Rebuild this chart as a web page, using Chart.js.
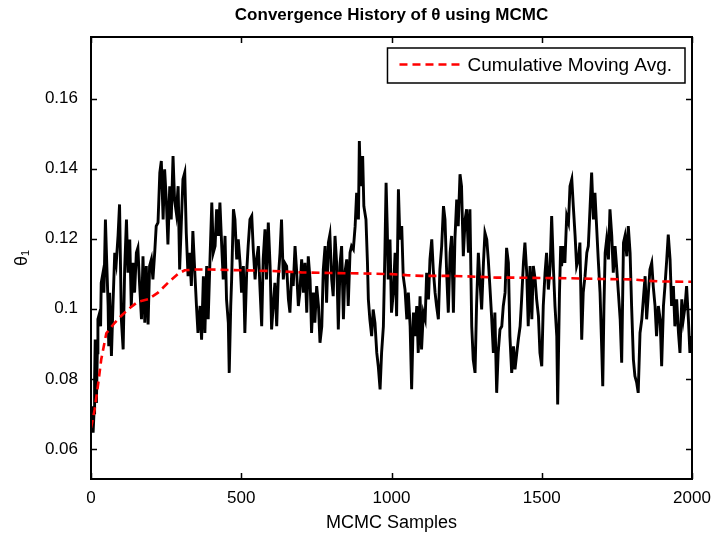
<!DOCTYPE html>
<html lang="en">
  <head>
    <meta charset="UTF-8" />
    <title>Convergence History of θ using MCMC</title>
    <script src="https://cdn.jsdelivr.net/npm/chart.js"></script>
    <style>
      html, body { margin: 0; padding: 0; background: #fff; }
      #wrap { width: 715px; height: 535px; }
    </style>
  </head>
  <body>
    <div id="wrap"><canvas id="mcmc-chart" width="715" height="535"></canvas></div>
    <script>
      // samples (MCMC sample index, theta_1 value)
      const sampleIdx = [
        0, 3, 7, 10, 12, 14, 18, 21, 23, 29, 32, 34, 40, 43, 48, 52, 57, 59, 62, 68,
        73, 79, 84, 90, 95, 101, 107, 112, 118, 123, 129, 134, 140, 145, 151, 156, 162, 168, 173, 179,
        184, 190, 195, 201, 206, 212, 217, 223, 229, 234, 240, 245, 251, 256, 262, 267, 273, 278, 284, 290,
        295, 301, 306, 312, 317, 323, 328, 334, 339, 345, 351, 356,
        363, 368, 374, 379, 385, 390, 396, 402, 407, 413, 418, 424, 429, 435, 440, 446, 451, 457, 460, 465,
        468, 474, 479, 485, 490, 496, 501, 507, 512, 518, 523, 529, 535, 540, 546, 551, 557, 562, 568, 573,
        579, 584, 590, 596, 601, 607, 612, 618, 623, 629, 634, 640, 645, 651, 657, 662, 668, 673, 679, 684,
        690, 695,
        701, 707, 712, 718, 723, 729, 734, 740, 745, 751, 757, 762, 768, 773, 779, 784, 790, 795, 801, 806,
        812, 818, 823, 829, 834, 840, 845, 851, 856, 862, 867, 873, 879, 884, 890, 893, 897, 904, 908, 915,
        920, 923, 928, 934, 939, 945, 951, 956, 962, 967, 973, 978, 982, 986, 989, 995, 1000, 1006, 1012, 1017,
        1023, 1028,
        1034, 1039, 1045, 1051, 1056, 1062, 1067, 1073, 1078, 1084, 1089, 1095, 1100, 1106, 1112, 1117, 1123, 1128, 1134, 1139,
        1145, 1150, 1156, 1161, 1167, 1173, 1178, 1184, 1189, 1195, 1200, 1206, 1211, 1217, 1222, 1228, 1233, 1239, 1245, 1250,
        1256, 1261, 1267, 1272, 1278, 1283, 1289, 1294, 1300, 1306, 1311, 1317, 1322, 1328, 1333, 1339, 1344, 1350, 1355, 1361,
        1367, 1372, 1378, 1383, 1389, 1394, 1400, 1406, 1411, 1417, 1422, 1428, 1433, 1439, 1444, 1450, 1455, 1461, 1467, 1472,
        1478, 1483, 1489, 1494, 1500, 1505, 1511, 1516, 1522, 1528, 1533, 1539, 1544, 1550, 1553, 1559, 1563, 1566, 1572, 1577,
        1583, 1589, 1594, 1600, 1605, 1611, 1616, 1622, 1627, 1633, 1638, 1644, 1650, 1655, 1661, 1666, 1672, 1677, 1683, 1688,
        1694,
        1700, 1703, 1707, 1711, 1716, 1722, 1727, 1733, 1738, 1744, 1749, 1755, 1761, 1766, 1772, 1777, 1783, 1788, 1794, 1799,
        1805, 1810, 1816, 1821, 1827, 1833, 1838, 1844, 1849, 1855, 1860, 1866, 1871, 1877, 1882, 1888, 1894, 1899, 1905, 1910,
        1916, 1921, 1927, 1932, 1938, 1943, 1949, 1955, 1960, 1966, 1971, 1977, 1982, 1988, 1993, 1997, 2000
      ];
      const thetaTrace = [
        0.0655, 0.0722, 0.0646, 0.0703, 0.0798, 0.0912, 0.0731, 0.0874, 0.097, 0.0989, 0.095, 0.1074, 0.1103, 0.1046, 0.1255, 0.1141, 0.1008, 0.0893, 0.1046, 0.0865,
        0.1008, 0.116, 0.1131, 0.1208, 0.1298, 0.097, 0.0884, 0.1112, 0.1255, 0.1103, 0.1198, 0.1008, 0.1131, 0.1046, 0.116, 0.1174, 0.1065, 0.097, 0.115, 0.096,
        0.1122, 0.0955, 0.1122, 0.1141, 0.1084, 0.116, 0.1236, 0.1246, 0.1389, 0.1422, 0.1255, 0.1398, 0.1303, 0.1184, 0.135, 0.1255, 0.1436, 0.1312, 0.1274, 0.135,
        0.1112, 0.1255, 0.137, 0.1389, 0.1217, 0.1093, 0.116, 0.1065, 0.1222, 0.1112, 0.1008, 0.0931,
        0.1008, 0.0912, 0.1093, 0.0931, 0.1122, 0.097, 0.1141, 0.1303, 0.116, 0.1179, 0.1284, 0.1208, 0.1303, 0.1179, 0.1084, 0.1208, 0.1027, 0.096, 0.0817, 0.1008,
        0.1084, 0.1284, 0.1255, 0.1141, 0.1198, 0.1131, 0.1046, 0.1122, 0.0931, 0.1103, 0.1179, 0.1255, 0.1265, 0.117, 0.1084, 0.1141, 0.1179, 0.1065, 0.095, 0.1141,
        0.1227, 0.1084, 0.1246, 0.1122, 0.0941, 0.1017, 0.1074, 0.095, 0.1084, 0.116, 0.1255, 0.1084, 0.1131, 0.1122, 0.1027, 0.0989, 0.1103, 0.1065, 0.1179, 0.1112,
        0.1008, 0.1046,
        0.1141, 0.1046, 0.1131, 0.0989, 0.115, 0.1084, 0.0931, 0.1046, 0.096, 0.1065, 0.1008, 0.0903, 0.095, 0.1112, 0.1179, 0.1017, 0.1189, 0.1212, 0.1084, 0.1036,
        0.1208, 0.1122, 0.0941, 0.1131, 0.1179, 0.097, 0.1103, 0.1141, 0.1008, 0.116, 0.1179, 0.117, 0.1236, 0.1331, 0.1255, 0.1479, 0.135, 0.1436, 0.1293, 0.1255,
        0.1131, 0.1027, 0.097, 0.0922, 0.0998, 0.096, 0.0874, 0.0836, 0.077, 0.0874, 0.095, 0.116, 0.136, 0.1227, 0.1084, 0.1198, 0.0989, 0.1046, 0.116, 0.0979,
        0.1341, 0.1198,
        0.1236, 0.1093, 0.1055, 0.097, 0.1046, 0.095, 0.077, 0.0989, 0.0922, 0.1008, 0.0874, 0.1036, 0.0884, 0.0989, 0.097, 0.1103, 0.1027, 0.1141, 0.1198, 0.1112,
        0.1046, 0.1008, 0.097, 0.1112, 0.1179, 0.1293, 0.1255, 0.1093, 0.0989, 0.116, 0.1208, 0.0989, 0.1198, 0.1312, 0.1236, 0.1384, 0.135, 0.115, 0.1255, 0.1284,
        0.116, 0.1284, 0.095, 0.0855, 0.0817, 0.1008, 0.116, 0.1084, 0.0998, 0.1131, 0.1217, 0.1198, 0.1141, 0.1055, 0.0979, 0.0874, 0.0989, 0.076, 0.0874, 0.0941,
        0.095, 0.1008, 0.1046, 0.1174, 0.1131, 0.0922, 0.0817, 0.0893, 0.0827, 0.0874, 0.0912, 0.095, 0.1027, 0.1131, 0.1189, 0.1103, 0.095, 0.1122, 0.097, 0.1122,
        0.1084, 0.1027, 0.0979, 0.0874, 0.0836, 0.1008, 0.1103, 0.116, 0.1055, 0.1122, 0.1265, 0.1112, 0.1008, 0.0922, 0.0727, 0.1046, 0.1179, 0.1122, 0.1179, 0.1131,
        0.1265, 0.1246, 0.135, 0.137, 0.1293, 0.1208, 0.1122, 0.1141, 0.1189, 0.0912, 0.1046, 0.1093, 0.116, 0.1179, 0.1293, 0.1389, 0.1255, 0.1331, 0.1227, 0.1141,
        0.1046,
        0.0874, 0.0779, 0.1008, 0.116, 0.1198, 0.1141, 0.1284, 0.1208, 0.1103, 0.1179, 0.1122, 0.1046, 0.097, 0.0846, 0.1189, 0.1208, 0.115, 0.1236, 0.116, 0.1008,
        0.0855, 0.0808, 0.0789, 0.076, 0.0931, 0.097, 0.1027, 0.1093, 0.097, 0.1046, 0.1112, 0.1131, 0.1065, 0.1008, 0.0922, 0.1008, 0.097, 0.0836, 0.1008, 0.1065,
        0.1141, 0.1212, 0.1141, 0.1008, 0.1065, 0.095, 0.1027, 0.0931, 0.0874, 0.1027, 0.097, 0.1008, 0.1065, 0.097, 0.0874, 0.0922, 0.0874
      ];

      // cumulative moving average
      const avgIdx = [0, 5, 12, 23, 34, 51, 79, 101, 123, 156, 190, 223, 256, 290, 312, 350, 400, 500, 600, 700,
        800, 900, 1000, 1050, 1100, 1200, 1300, 1350, 1400, 1500, 1600, 1700, 1800, 1850, 1900, 2000];
      const avgTrace = [0.066, 0.068, 0.0712, 0.078, 0.0855, 0.093, 0.096, 0.098, 0.0998, 0.102, 0.1027, 0.1046, 0.1074, 0.110, 0.111, 0.1112, 0.1112, 0.1110, 0.1108, 0.1104,
        0.1102, 0.1101, 0.1099, 0.1096, 0.1094, 0.1094, 0.1091, 0.1089, 0.1089, 0.1088, 0.1087, 0.1085, 0.1084, 0.1080, 0.1078, 0.1077];

      const xTickValues = [0, 500, 1000, 1500, 2000];
      const xTickLabels = ["0", "500", "1000", "1500", "2000"];
      const yTickValues = [0.06, 0.08, 0.1, 0.12, 0.14, 0.16];
      const yTickLabels = ["0.06", "0.08", "0.1", "0.12", "0.14", "0.16"];

      const FONT = "'Liberation Sans', Arial, Helvetica, sans-serif";

      // MATLAB-like box: frame, inward ticks on all four sides, legend inside the axes
      const matlabBox = {
        id: "matlabBox",
        afterDatasetsDraw(chart) {
          const { ctx, chartArea: a, scales } = chart;
          const xs = scales.x, ys = scales.y;
          const tl = 6;
          ctx.save();
          ctx.strokeStyle = "#000";
          ctx.lineWidth = 1.5;
          ctx.beginPath();
          xs.ticks.forEach((t) => {
            const px = Math.round(xs.getPixelForValue(t.value)) + 0.5;
            ctx.moveTo(px, a.bottom); ctx.lineTo(px, a.bottom - tl);
            ctx.moveTo(px, a.top); ctx.lineTo(px, a.top + tl);
          });
          ys.ticks.forEach((t) => {
            const py = Math.round(ys.getPixelForValue(t.value)) + 0.5;
            ctx.moveTo(a.left, py); ctx.lineTo(a.left + tl, py);
            ctx.moveTo(a.right, py); ctx.lineTo(a.right - tl, py);
          });
          ctx.stroke();
          ctx.lineWidth = 2;
          ctx.strokeRect(a.left, a.top, a.right - a.left, a.bottom - a.top);

          // legend for the moving average only
          const ds = chart.data.datasets[0];
          ctx.font = "19px " + FONT;
          const tw = ctx.measureText(ds.label).width;
          const boxR = a.right - 7, boxT = a.top + 11, boxH = 35;
          const textX = boxR - 13 - tw;
          const lineR = textX - 6, lineL = lineR - 62;
          const boxL = lineL - 12;
          ctx.fillStyle = "#fff";
          ctx.fillRect(boxL, boxT, boxR - boxL, boxH);
          ctx.lineWidth = 1.5;
          ctx.strokeStyle = "#000";
          ctx.strokeRect(boxL, boxT, boxR - boxL, boxH);
          ctx.beginPath();
          ctx.setLineDash(ds.borderDash);
          ctx.strokeStyle = ds.borderColor;
          ctx.lineWidth = ds.borderWidth;
          ctx.moveTo(lineL, boxT + 16.5);
          ctx.lineTo(lineR, boxT + 16.5);
          ctx.stroke();
          ctx.setLineDash([]);
          ctx.fillStyle = "#000";
          ctx.textBaseline = "middle";
          ctx.textAlign = "left";
          ctx.fillText(ds.label, textX, boxT + 18);
          ctx.restore();
        },
      };

      const ctx = document.getElementById("mcmc-chart").getContext("2d");
      const mcmcChart = new Chart(ctx, {
        type: "line",
        data: {
          datasets: [
            {
              label: "Cumulative Moving Avg.",
              data: avgIdx.map((s, i) => ({ x: s, y: avgTrace[i] })),
              borderColor: "#ff0000",
              borderWidth: 2.6,
              borderDash: [8, 5],
              pointRadius: 0,
              tension: 0,
              fill: false,
            },
            {
              label: "theta",
              data: sampleIdx.map((s, i) => ({ x: s, y: thetaTrace[i] })),
              borderColor: "#000000",
              borderWidth: 2.9,
              pointRadius: 0,
              tension: 0,
              fill: false,
            },
          ],
        },
        options: {
          responsive: false,
          animation: false,
          layout: { padding: { left: 0, right: 23, top: 0, bottom: 0 } },
          scales: {
            x: {
              type: "linear",
              min: 0,
              max: 2000,
              afterFit: (s) => { s.height = 56; s.paddingLeft = 0; s.paddingRight = 0; },
              afterBuildTicks: (s) => { s.ticks = xTickValues.map((v) => ({ value: v })); },
              grid: { display: false, drawTicks: false },
              border: { display: false },
              ticks: {
                color: "#000",
                padding: 9,
                maxRotation: 0,
                font: { family: FONT, size: 17 },
                callback: (v, i) => xTickLabels[i],
              },
              title: {
                display: true,
                text: "MCMC Samples",
                color: "#000",
                font: { family: FONT, size: 18 },
                padding: { top: 0, bottom: 1 },
              },
            },
            y: {
              type: "linear",
              min: 0.0514,
              max: 0.1776,
              afterFit: (s) => { s.width = 91; s.paddingTop = 0; s.paddingBottom = 0; },
              afterBuildTicks: (s) => { s.ticks = yTickValues.map((v) => ({ value: v })); },
              grid: { display: false, drawTicks: false },
              border: { display: false },
              ticks: {
                color: "#000",
                padding: 13,
                font: { family: FONT, size: 17 },
                callback: (v, i) => yTickLabels[i],
              },
              title: {
                display: true,
                text: "θ₁",
                color: "#000",
                font: { family: FONT, size: 18 },
                padding: { top: 11, bottom: 0 },
              },
            },
          },
          plugins: {
            legend: { display: false },
            tooltip: { enabled: false },
            title: {
              display: true,
              fullSize: false,
              text: "Convergence History of θ using MCMC",
              color: "#000",
              font: { family: FONT, size: 17, weight: "bold" },
              padding: { top: 5, bottom: 11.6 },
            },
          },
        },
        plugins: [matlabBox],
      });
    </script>
  </body>
</html>
